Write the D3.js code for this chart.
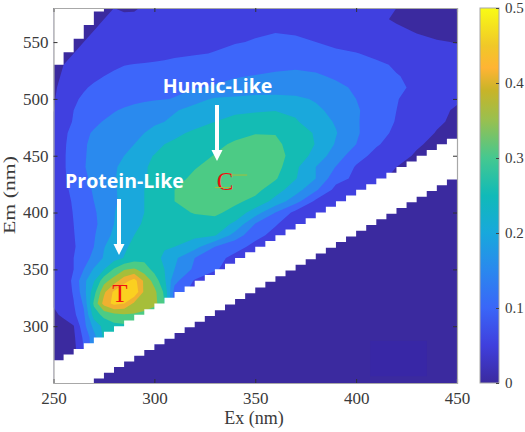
<!DOCTYPE html>
<html>
<head>
<meta charset="utf-8">
<title>EEM contour</title>
<script src="https://cdn.jsdelivr.net/npm/d3@7"></script>
<style>
	html, body { margin: 0; padding: 0; background: #fff; }
	svg { display: block; }
	text { font-family: "Liberation Serif", serif; fill: #3a3a3a; }
</style>
</head>
<body>
<div id="chart"></div>
<script>
"use strict";

// grid nodes
const exGrid = [250, 255, 260, 265, 270, 275, 280, 285, 290, 295, 300, 305, 310, 320, 330, 340, 350, 360, 370, 380, 390, 400, 410, 420, 430, 440, 450];
const emGrid = [250, 260, 270, 280, 290, 300, 310, 320, 330, 340, 350, 360, 370, 380, 390, 400, 410, 420, 430, 440, 450, 460, 470, 480, 490, 500, 510, 520, 530, 540, 550, 560, 570, 580];

// fluorescence intensity, one row per Em (bottom row first), one value per Ex
const intensity = [
	[0, 0, 0, 0, 0, 0, 0, 0, 0, 0, 0, 0, 0, 0, 0, 0, 0, 0, 0, 0, 0, 0, 0, 0, 0, 0, 0],
	[0, 0, 0, 0, 0, 0, 0, 0, 0, 0, 0, 0, 0, 0, 0, 0, 0, 0, 0, 0, 0, 0, 0, 0, 0, 0, 0],
	[.01, .015, .02, .03, .04, .04, .04, .04, .03, .02, .01, .01, .01, .01, .01, .01, .01, .01, .01, .01, .01, .01, .01, .01, .01, .01, .01],
	[.01, .02, .035, .1, .18, .22, .2, .15, .1, .05, .02, .01, .01, .01, .01, .01, .01, .01, .01, .01, .01, .01, .01, .01, .01, .01, .01],
	[.015, .02, .04, .11, .18, .26, .28, .27, .24, .2, .15, .1, .05, .03, .02, .01, .01, .01, .01, .01, .01, .01, .01, .01, .01, .01, .01],
	[.02, .03, .048, .132, .216, .265, .285, .29, .28, .26, .22, .15, .08, .04, .03, .02, .01, .01, .01, .01, .01, .01, .01, .01, .01, .01, .01],
	[.04, .06, .088, .141, .274, .315, .335, .345, .345, .34, .3, .25, .1, .05, .03, .02, .01, .01, .01, .01, .01, .01, .01, .01, .01, .01, .01],
	[.055, .07, .098, .158, .309, .42, .465, .45, .39, .37, .37, .3, .12, .06, .04, .03, .02, .01, .01, .01, .01, .01, .01, .01, .01, .01, .01],
	[.05, .07, .105, .18, .28, .39, .46, .5, .49, .39, .365, .29, .13, .08, .06, .04, .03, .02, .01, .01, .01, .01, .01, .01, .01, .01, .01],
	[.05, .072, .11, .186, .245, .33, .375, .43, .47, .39, .33, .26, .165, .095, .07, .05, .035, .02, .01, .01, .01, .01, .01, .01, .01, .01, .01],
	[.055, .072, .1, .15, .205, .248, .305, .345, .357, .325, .283, .25, .2, .14, .105, .08, .06, .04, .03, .02, .01, .01, .01, .01, .01, .01, .01],
	[.058, .075, .1, .128, .165, .205, .23, .252, .275, .285, .268, .24, .21, .15, .112, .09, .07, .05, .035, .02, .01, .01, .01, .01, .01, .01, .01],
	[.06, .075, .095, .122, .15, .198, .22, .243, .26, .265, .262, .255, .25, .219, .15, .113, .09, .07, .05, .035, .02, .01, .01, .01, .01, .01, .01],
	[.062, .078, .098, .12, .145, .18, .21, .23, .25, .255, .258, .26, .262, .262, .255, .18, .11, .09, .07, .045, .03, .02, .01, .01, .01, .01, .01],
	[.065, .08, .1, .12, .14, .168, .2, .22, .24, .255, .262, .268, .274, .28, .28, .24, .148, .103, .08, .05, .03, .02, .01, .01, .01, .01, .01],
	[.07, .083, .102, .127, .143, .17, .198, .218, .238, .25, .263, .275, .288, .303, .31, .284, .225, .15, .085, .06, .04, .03, .02, .01, .01, .01, .01],
	[.07, .085, .105, .13, .15, .175, .195, .21, .23, .25, .267, .285, .3, .307, .31, .31, .286, .233, .17, .09, .07, .04, .03, .02, .01, .01, .01],
	[.075, .09, .11, .133, .155, .175, .195, .212, .228, .25, .267, .283, .3, .31, .315, .32, .315, .272, .222, .158, .085, .06, .045, .03, .02, .01, .01],
	[.08, .093, .118, .142, .16, .18, .197, .213, .23, .245, .262, .275, .285, .31, .32, .33, .335, .305, .253, .2, .117, .09, .06, .04, .03, .02, .015],
	[.08, .095, .12, .147, .165, .18, .195, .21, .23, .245, .26, .27, .28, .297, .315, .325, .33, .32, .26, .2, .148, .095, .07, .05, .035, .025, .02],
	[.08, .095, .12, .146, .162, .175, .187, .2, .22, .24, .252, .26, .268, .285, .302, .315, .32, .315, .285, .23, .175, .12, .085, .065, .045, .033, .025],
	[.075, .093, .12, .145, .16, .17, .18, .19, .2, .217, .233, .25, .26, .275, .292, .305, .315, .31, .28, .248, .195, .15, .105, .08, .055, .04, .03],
	[.07, .09, .115, .14, .155, .165, .175, .185, .193, .2, .212, .225, .238, .26, .28, .29, .298, .298, .275, .245, .203, .157, .118, .09, .065, .048, .035],
	[.06, .085, .103, .12, .14, .153, .162, .17, .178, .185, .193, .2, .21, .23, .25, .265, .272, .275, .255, .225, .195, .155, .125, .097, .07, .055, .043],
	[.048, .08, .1, .112, .122, .133, .147, .155, .163, .172, .18, .188, .196, .215, .232, .24, .245, .248, .24, .21, .185, .155, .13, .1, .075, .06, .045],
	[.045, .075, .093, .107, .116, .123, .13, .135, .138, .142, .145, .148, .152, .186, .205, .21, .215, .215, .21, .195, .175, .15, .125, .102, .085, .072, .056],
	[.042, .065, .08, .095, .107, .115, .12, .123, .127, .13, .133, .136, .14, .147, .155, .163, .17, .175, .175, .168, .158, .145, .125, .105, .095, .085, .068],
	[.04, .055, .068, .08, .09, .1, .105, .11, .113, .116, .118, .12, .123, .13, .138, .147, .152, .158, .16, .155, .145, .13, .115, .102, .092, .083, .075],
	[.035, .05, .06, .07, .08, .088, .095, .099, .101, .102, .103, .104, .106, .11, .118, .126, .132, .138, .142, .14, .13, .12, .108, .095, .085, .075, .068],
	[.03, .04, .05, .06, .07, .076, .08, .085, .088, .09, .092, .094, .096, .098, .101, .105, .11, .115, .118, .115, .108, .102, .09, .08, .07, .062, .056],
	[.025, .03, .04, .05, .06, .068, .072, .076, .08, .082, .085, .087, .09, .093, .096, .099, .101, .104, .104, .1, .09, .08, .07, .062, .056, .052, .049],
	[.02, .025, .03, .04, .05, .06, .065, .07, .072, .075, .078, .08, .083, .088, .092, .095, .098, .099, .097, .09, .082, .074, .065, .055, .048, .042, .038],
	[.02, .02, .02, .03, .04, .05, .055, .058, .06, .065, .068, .07, .075, .08, .085, .088, .092, .095, .09, .082, .075, .068, .055, .047, .04, .033, .03],
	[.02, .02, .02, .02, .03, .04, .05, .045, .045, .055, .06, .065, .07, .075, .08, .085, .09, .09, .085, .08, .07, .065, .055, .05, .04, .03, .025]
];

// contour levels and the flat colour of the band above each of them
const levels = [.05, .1, .15, .2, .25, .3, .35, .4, .45];
const bandColors = ["#4040e0", "#3d66fa", "#2a8aee", "#1aa8dc", "#14bcb4", "#4ccb85", "#a6be3a", "#f0b030", "#fbd020"];
const baseColor = "#3b2a9f";

// scatter band and 2nd order mask, a staircase of 5 nm Ex steps
const stepEx = [250, 255, 260, 265, 270, 275, 280, 285, 290, 295, 300, 305, 310, 315, 320, 325, 330, 335, 340, 345, 350, 355, 360, 365, 370, 375, 380, 385, 390, 395, 400, 405, 410, 415, 420, 425, 430, 435, 440, 445, 450];
const bandTop = [270, 275, 280, 285, 290, 295, 300, 305, 310, 315, 320, 325, 330, 335, 340, 345, 350, 355, 360, 365, 370, 375, 380, 385, 390, 395, 400, 405, 410, 415, 420, 425, 430, 435, 440, 445, 450, 455, 460, 465, 465];
const bandBottom = [250, 250, 250, 250, 254, 259, 264, 269, 274, 279, 284, 289, 294, 299, 304, 309, 314, 319, 324, 329, 334, 339, 344, 349, 354, 359, 364, 369, 374, 379, 384, 389, 394, 399, 404, 409, 414, 419, 424, 429, 429];
const maskEx = [250, 255, 260, 265, 270, 275];
const maskEm = [530, 541, 553, 565, 577, 577];

// the stray strokes next to the C in the source picture
const strokeEx = [[338, 346], [330, 338]];
const strokeEm = [433, 422];

// tick labels
const exTicks = [250, 300, 350, 400, 450];
const emTicks = [300, 350, 400, 450, 500, 550];
const barTicks = [0, .1, .2, .3, .4, .5];

// colour bar ramp
const rampValues = [0, .05, .1, .15, .2, .25, .3, .35, .39, .42, .45, .5];
const rampColors = ["#3b2a9f", "#3f3fdd", "#3a66f8", "#2a88ee", "#18a8dc", "#10bab8", "#45c890", "#98c050", "#c8b428", "#ffb434", "#f0c828", "#f9fb15"];

const w = 525;
const h = 432;
const plot = { left: 53.5, right: 457, top: 8, bottom: 383 };
const bar = { left: 480, right: 499 };

const svg = d3.select("#chart")
	.append("svg")
	.attr("width", w)
	.attr("height", h);

const x = d3.scaleLinear().domain([250, 450]).range([plot.left, plot.right]);
const y = d3.scaleLinear().domain([250, 580]).range([plot.bottom, plot.top]);
const c = d3.scaleLinear().domain([0, .5]).range([plot.bottom, plot.top]);

svg.append("clipPath")
	.attr("id", "plot-clip")
	.append("rect")
	.attr("x", plot.left)
	.attr("y", plot.top)
	.attr("width", plot.right - plot.left)
	.attr("height", plot.bottom - plot.top);

const area = svg.append("g").attr("clip-path", "url(#plot-clip)");

area.append("rect")
	.attr("x", plot.left)
	.attr("y", plot.top)
	.attr("width", plot.right - plot.left)
	.attr("height", plot.bottom - plot.top)
	.attr("fill", baseColor);

// grid index -> nm, the grid is not evenly spaced in Ex
const exAt = d3.scaleLinear().domain(d3.range(exGrid.length)).range(exGrid).clamp(true);
const emAt = d3.scaleLinear().domain(d3.range(emGrid.length)).range(emGrid).clamp(true);

const contours = d3.contours()
	.size([exGrid.length, emGrid.length])
	.thresholds(levels)(intensity.flat());

const path = d3.geoPath(d3.geoTransform({
	point: function (px, py) {
		// d3 puts a value in the middle of its cell
		this.stream.point(x(exAt(px - .5)), y(emAt(py - .5)));
	}
}));

area.selectAll("path.band")
	.data(contours)
	.enter()
	.append("path")
	.attr("class", "band")
	.attr("d", path)
	.attr("fill", (d, i) => bandColors[i]);

// below the scatter band nothing was measured
const steps = stepEx.map((d, i) => ({ ex: d, top: bandTop[i], bottom: bandBottom[i] }));

area.append("path")
	.datum(steps)
	.attr("fill", baseColor)
	.attr("d", d3.area()
		.curve(d3.curveStepAfter)
		.x(d => x(d.ex))
		.y0(plot.bottom)
		.y1(d => y(d.bottom)));

area.append("path")
	.datum(steps)
	.attr("fill", "#fff")
	.attr("d", d3.area()
		.curve(d3.curveStepAfter)
		.x(d => x(d.ex))
		.y0(d => y(d.bottom))
		.y1(d => y(d.top)));

// white corner top left
area.append("path")
	.datum(maskEx.map((d, i) => ({ ex: d, em: maskEm[i] })))
	.attr("fill", "#fff")
	.attr("d", d3.area()
		.curve(d3.curveStepAfter)
		.x(d => x(d.ex))
		.y0(plot.top)
		.y1(d => y(d.em)));

// the faint patch in the lower right of the source picture
area.append("rect")
	.attr("x", x(407))
	.attr("y", y(287))
	.attr("width", x(435) - x(407))
	.attr("height", y(256) - y(287))
	.attr("fill", "#3827a6");

// axes, ticks point inward on all four sides
const axisStyle = (g) => {
	g.select(".domain").attr("stroke", "#a8a8a8").attr("stroke-width", 1.2);
	g.selectAll(".tick line").attr("stroke", "#333");
	g.selectAll(".tick text").attr("font-size", 17).attr("fill", "#3a3a3a");
}

svg.append("g")
	.attr("transform", `translate(0,${plot.bottom})`)
	.call(d3.axisBottom(x).tickValues(exTicks).tickSize(-4).tickPadding(9).tickFormat(d3.format("d")))
	.call(axisStyle)
	.attr("font-family", null);

svg.append("g")
	.attr("transform", `translate(0,${plot.top})`)
	.call(d3.axisTop(x).tickValues(exTicks).tickSize(-4).tickFormat(""))
	.call(axisStyle);

svg.append("g")
	.attr("transform", `translate(${plot.left},0)`)
	.call(d3.axisLeft(y).tickValues(emTicks).tickSize(-4).tickPadding(5).tickFormat(d3.format("d")))
	.call(axisStyle)
	.attr("font-family", null);

svg.append("g")
	.attr("transform", `translate(${plot.right},0)`)
	.call(d3.axisRight(y).tickValues(emTicks).tickSize(-4).tickFormat(""))
	.call(axisStyle);

svg.append("text")
	.attr("x", 254)
	.attr("y", 424)
	.attr("text-anchor", "middle")
	.attr("font-size", 18)
	.text("Ex (nm)");

// the source picture is stretched along this label
svg.append("text")
	.attr("transform", "translate(15,195) rotate(-90) scale(1.28,1)")
	.attr("text-anchor", "middle")
	.attr("font-size", 17)
	.text("Em (nm)");

// colour bar
const gradient = svg.append("linearGradient")
	.attr("id", "ramp")
	.attr("x1", 0).attr("x2", 0)
	.attr("y1", 1).attr("y2", 0);

gradient.selectAll("stop")
	.data(rampValues)
	.enter()
	.append("stop")
	.attr("offset", d => d / .5)
	.attr("stop-color", (d, i) => rampColors[i]);

svg.append("rect")
	.attr("x", bar.left)
	.attr("y", plot.top)
	.attr("width", bar.right - bar.left)
	.attr("height", plot.bottom - plot.top)
	.attr("fill", "url(#ramp)")
	.attr("stroke", "#a8a8a8");

svg.append("g")
	.attr("transform", `translate(${bar.right},0)`)
	.call(d3.axisRight(c).tickValues(barTicks).tickSize(-3).tickPadding(6).tickFormat(d => d === 0 ? "0" : d3.format(".1f")(d)))
	.call(g => g.select(".domain").remove())
	.call(g => g.selectAll(".tick line").attr("stroke", "#444"))
	.call(g => g.selectAll(".tick text").attr("font-size", 15).attr("fill", "#555"))
	.attr("font-family", null);

// peak letters
svg.append("text")
	.attr("x", 120).attr("y", 302)
	.attr("text-anchor", "middle")
	.attr("font-size", 25)
	.style("fill", "#f01010")
	.text("T");

svg.append("text")
	.attr("x", 225).attr("y", 190)
	.attr("text-anchor", "middle")
	.attr("font-size", 25)
	.style("fill", "#f01010")
	.text("C");

svg.selectAll("line.stroke")
	.data(strokeEm)
	.enter()
	.append("line")
	.attr("class", "stroke")
	.attr("x1", (d, i) => x(strokeEx[i][0]))
	.attr("x2", (d, i) => x(strokeEx[i][1]))
	.attr("y1", d => y(d))
	.attr("y2", d => y(d))
	.attr("stroke", "#a6be3a")
	.attr("stroke-width", 1);

// white labels with arrows
const notes = [
	{ label: "Humic-Like", lx: 217.5, ly: 93, ax: 217, top: 105, tip: 161 },
	{ label: "Protein-Like", lx: 124.5, ly: 187.5, ax: 119, top: 199, tip: 255 }
];

svg.selectAll("text.note")
	.data(notes)
	.enter()
	.append("text")
	.attr("class", "note")
	.attr("x", d => d.lx)
	.attr("y", d => d.ly)
	.attr("text-anchor", "middle")
	.attr("font-size", 19.5)
	.attr("font-weight", 700)
	.style("font-family", "'Open Sans', sans-serif")
	.style("fill", "#fff")
	.text(d => d.label);

svg.selectAll("path.arrow")
	.data(notes)
	.enter()
	.append("path")
	.attr("class", "arrow")
	.attr("fill", "#fff")
	.attr("d", d => `M${d.ax - 2},${d.top}H${d.ax + 2}V${d.tip - 11}H${d.ax + 5.5}L${d.ax},${d.tip}L${d.ax - 5.5},${d.tip - 11}H${d.ax - 2}Z`);
</script>
</body>
</html>
